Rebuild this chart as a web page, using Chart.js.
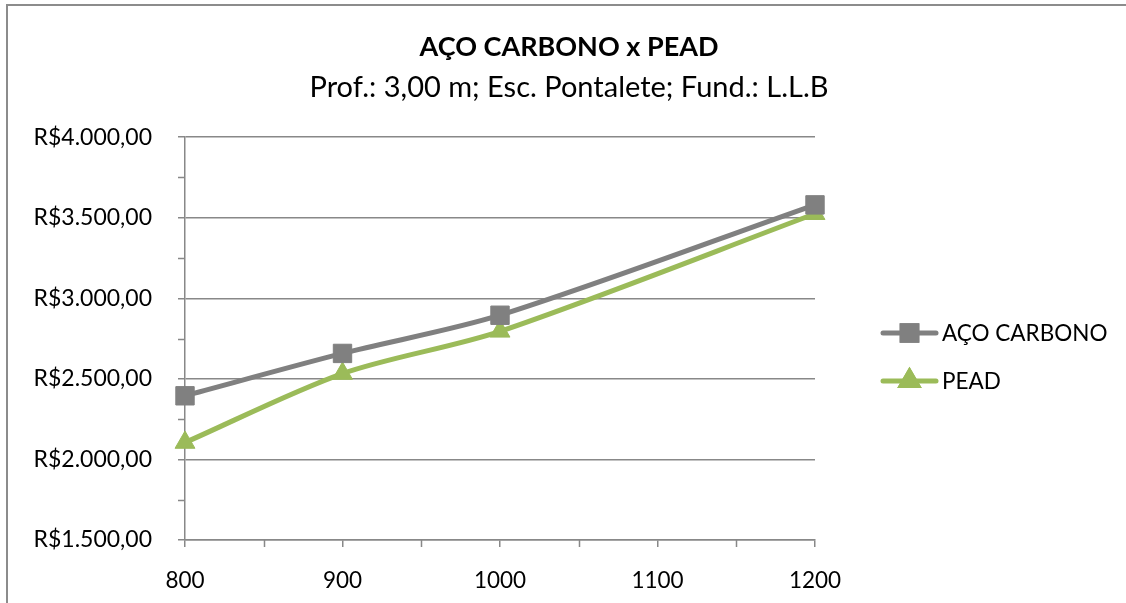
<!DOCTYPE html>
<html>
<head>
<meta charset="utf-8">
<script src="https://cdn.jsdelivr.net/npm/chart.js@4.4.1/dist/chart.umd.min.js"></script>
<style>
  html, body { margin: 0; padding: 0; background: #ffffff; }
  #wrap { position: relative; width: 1126px; height: 603px; }
  canvas { display: block; }
</style>
</head>
<body>
<div id="wrap"><canvas id="c" width="1126" height="603"></canvas></div>
<script>
// ---- data ----
const diameters = [800, 900, 1000, 1200];
const acoCarbono = [2395, 2658, 2895, 3580];
const pead = [2105, 2533, 2795, 3525];
const seriesNames = ['AÇO CARBONO', 'PEAD'];
const titleText = 'AÇO CARBONO x PEAD';
const subtitleText = 'Prof.: 3,00 m; Esc. Pontalete; Fund.: L.L.B';
const yMin = 1500, yMax = 4000, yStep = 500;
const xMin = 800, xMax = 1200, xStep = 100;

const FONT = 'Lato, "Open Sans", sans-serif';
const GRAY = '#808080';
const GREEN = '#9BBB59';
const AXIS = '#888888';

function brl(v) {
  const fixed = v.toFixed(2).split('.');
  const int = fixed[0].replace(/\B(?=(\d{3})+(?!\d))/g, '.');
  return 'R$' + int + ',' + fixed[1];
}

const minorTicks = {
  id: 'minorTicks',
  afterDraw(chart) {
    const ctx = chart.ctx;
    const xs = chart.scales.x, ys = chart.scales.y;
    ctx.save();
    ctx.strokeStyle = AXIS;
    ctx.lineWidth = 1.5;
    ctx.beginPath();
    for (let v = yMin + yStep / 2; v < yMax; v += yStep) {
      const p = Math.round(ys.getPixelForValue(v)) + 0.5;
      ctx.moveTo(xs.left - 7, p); ctx.lineTo(xs.left, p);
    }
    for (let v = xMin + xStep / 2; v < xMax; v += xStep) {
      const p = Math.round(xs.getPixelForValue(v)) + 0.5;
      ctx.moveTo(p, ys.bottom); ctx.lineTo(p, ys.bottom + 7);
    }
    ctx.stroke();
    // outer frame
    ctx.strokeStyle = '#8c8c8c';
    ctx.lineWidth = 2;
    ctx.beginPath();
    ctx.moveTo(7, 603); ctx.lineTo(7, 5); ctx.lineTo(1126, 5);
    ctx.stroke();
    ctx.restore();
  }
};

const lineLegend = {
  id: 'lineLegend',
  afterDraw(chart) {
    const ctx = chart.ctx;
    const x0 = 883, x1 = 936, tx = 942;
    const rows = [333, 381];
    ctx.save();
    chart.data.datasets.forEach((ds, i) => {
      const y = rows[i];
      ctx.strokeStyle = ds.borderColor;
      ctx.lineWidth = ds.borderWidth;
      ctx.lineCap = 'round';
      ctx.beginPath(); ctx.moveTo(x0, y); ctx.lineTo(x1, y); ctx.stroke();
      Chart.helpers.drawPoint(ctx, {
        pointStyle: ds.pointStyle, radius: ds.pointRadius * 0.8,
        borderWidth: 1, rotation: 0
      }, (x0 + x1) / 2, y);
      ctx.fillStyle = ds.pointBackgroundColor;
      ctx.strokeStyle = ds.pointBorderColor;
      ctx.fill(); ctx.stroke();
      ctx.fillStyle = '#000000';
      ctx.font = '22.5px ' + FONT;
      ctx.textBaseline = 'middle';
      ctx.textAlign = 'left';
      ctx.fillText(ds.label, tx, y + 1);
    });
    ctx.restore();
  }
};

new Chart(document.getElementById('c'), {
  type: 'line',
  data: {
    datasets: [
      {
        label: seriesNames[0],
        data: diameters.map((d, i) => ({ x: d, y: acoCarbono[i] })),
        borderColor: GRAY, backgroundColor: GRAY,
        pointBackgroundColor: GRAY, pointBorderColor: GRAY,
        borderWidth: 5, tension: 0.3, clip: false,
        pointStyle: 'rect', pointRadius: 13, pointBorderWidth: 1
      },
      {
        label: seriesNames[1],
        data: diameters.map((d, i) => ({ x: d, y: pead[i] })),
        borderColor: GREEN, backgroundColor: GREEN,
        pointBackgroundColor: GREEN, pointBorderColor: GREEN,
        borderWidth: 5, tension: 0.3, clip: false,
        pointStyle: 'triangle', pointRadius: 11.5, pointBorderWidth: 1
      }
    ]
  },
  options: {
    responsive: false,
    animation: false,
    events: [],
    layout: { padding: { left: 12, right: 0, top: 0, bottom: 0 } },
    plugins: {
      legend: { display: false },
      tooltip: { enabled: false },
      title: {
        display: true, text: titleText, color: '#000000',
        font: { family: FONT, size: 27, weight: 'bold', lineHeight: 1.2 },
        padding: { top: 31, bottom: 4 }
      },
      subtitle: {
        display: true, text: subtitleText, color: '#000000',
        font: { family: FONT, size: 29, weight: 'normal', lineHeight: 1.2 },
        padding: { top: 3, bottom: 32 }
      }
    },
    scales: {
      x: {
        type: 'linear', min: xMin, max: xMax,
        ticks: { stepSize: xStep, color: '#000000', font: { family: FONT, size: 22.5 }, padding: 20, maxRotation: 0, callback: v => String(v) },
        grid: { drawOnChartArea: false, drawTicks: true, tickLength: 7, color: AXIS, lineWidth: 1.5 },
        border: { display: true, color: AXIS, width: 1.5 },
        afterFit(s) { s.height = 63; }
      },
      y: {
        type: 'linear', min: yMin, max: yMax,
        ticks: { stepSize: yStep, color: '#000000', font: { family: FONT, size: 23 }, padding: 26, callback: v => brl(v) },
        grid: { color: AXIS, lineWidth: 1.5, tickLength: 7 },
        border: { display: true, color: AXIS, width: 1.5 },
        afterFit(s) { s.width = 173; }
      },
      yRight: {
        type: 'linear', position: 'right', display: true,
        grid: { display: false }, border: { display: false },
        ticks: { display: false },
        afterFit(s) { s.width = 311; }
      }
    }
  },
  plugins: [minorTicks, lineLegend]
});
</script>
</body>
</html>
